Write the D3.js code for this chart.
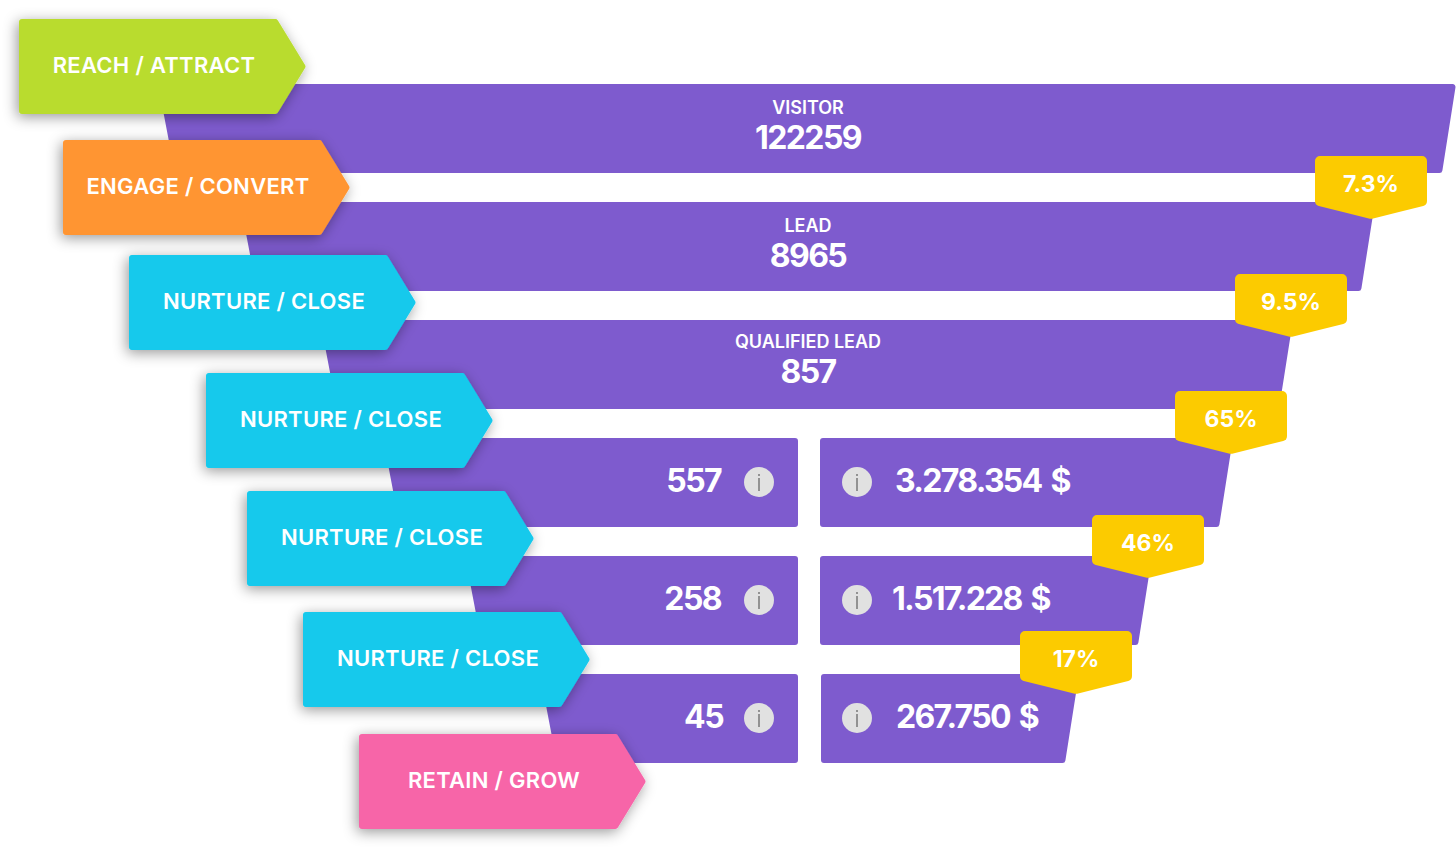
<!DOCTYPE html>
<html>
<head>
<meta charset="utf-8">
<script src="https://cdn.jsdelivr.net/npm/d3@7"></script>
<style>
  html, body { margin: 0; background: #fff; }
  svg { display: block; }
  text { font-family: Inter, "Open Sans", sans-serif; fill: #fff; }
</style>
</head>
<body>
<svg id="funnel"></svg>
<script>
// funnel data
const stages = ["VISITOR", "LEAD", "QUALIFIED LEAD", "S4", "S5", "S6"];
const stageValues = ["122259", "8965", "857", "557", "258", "45"];
const stageAmounts = [null, null, null, "3.278.354 $", "1.517.228 $", "267.750 $"];
const rates = ["7.3%", "9.5%", "65%", "46%", "17%"];
const tags = ["REACH / ATTRACT", "ENGAGE / CONVERT", "NURTURE / CLOSE", "NURTURE / CLOSE", "NURTURE / CLOSE", "NURTURE / CLOSE", "RETAIN / GROW"];
const tagColors = ["#b9dc2f", "#ff9532", "#13c9ec", "#13c9ec", "#13c9ec", "#13c9ec", "#f765a8"];

const width = 1456;
const height = 848;
const svg = d3.select("#funnel").attr("width", width).attr("height", height);

const stageIdx = d3.range(stages.length);
const tagIdx = d3.range(tags.length);
const rateIdx = d3.range(rates.length);

// rows are regular, the funnel edges and the tags are not
const y = d3.scaleBand().domain(stageIdx).range([84, 763]).paddingInner(29 / 118);
const leftEdge = d3.scaleOrdinal().domain(stageIdx).range([158, 240, 320, 383, 465, 540]);
const rightEdge = d3.scaleOrdinal().domain(stageIdx).range([1456, 1375, 1293, 1233, 1152, 1079]);
const amountX = d3.scaleOrdinal().domain(stageIdx).range([0, 0, 0, 895, 892, 896]);
const valueEnd = d3.scaleOrdinal().domain(stageIdx).range([0, 0, 0, 721, 721, 723]);
const labelDy = d3.scaleOrdinal().domain(stageIdx).range([30, 30, 28]);
const valueDy = d3.scaleOrdinal().domain(stageIdx).range([65, 65, 63]);
const tagX = d3.scaleOrdinal().domain(tagIdx).range([19, 63, 129, 206, 247, 303, 359]);
const tagY = d3.scaleOrdinal().domain(tagIdx).range([19, 140, 255, 373, 491, 612, 734]);
const rateX = d3.scaleOrdinal().domain(rateIdx).range([1315, 1235, 1175, 1092, 1020]);
const rateY = d3.scaleOrdinal().domain(rateIdx).range([156, 274, 391, 515, 631]);

const skew = 14;      // how far the right edge leans over one row
const leftSkew = 17;
const midX = 808;

// closed polygon with rounded corners
const roundedPoly = (pts, r) => {
  const p = d3.path();
  const n = pts.length;
  const mid = (a, b) => [(a[0] + b[0]) / 2, (a[1] + b[1]) / 2];
  const start = mid(pts[n - 1], pts[0]);
  p.moveTo(start[0], start[1]);
  pts.forEach((c, i) => {
    const next = pts[(i + 1) % n];
    const m = mid(c, next);
    p.arcTo(c[0], c[1], m[0], m[1], r);
    p.lineTo(m[0], m[1]);
  });
  p.closePath();
  return p.toString();
};

const defs = svg.append("defs");
const shadow = defs.append("filter").attr("id", "tagShadow")
  .attr("x", "-15%").attr("y", "-30%").attr("width", "130%").attr("height", "170%");
shadow.append("feDropShadow")
  .attr("dx", -2).attr("dy", 3).attr("stdDeviation", 7)
  .attr("flood-color", "#000").attr("flood-opacity", 0.4);

// funnel bars
const bars = svg.append("g").attr("fill", "#7e5bce");
stageIdx.forEach(i => {
  const t = y(i), b = t + y.bandwidth();
  const l = leftEdge(i), r = rightEdge(i);
  if (stageAmounts[i] === null) {
    bars.append("path").attr("d", roundedPoly([[l, t], [r, t], [r - skew, b], [l + leftSkew, b]], 3));
  } else {
    const gapL = 798, gapR = i === 5 ? 821 : 820;
    bars.append("path").attr("d", roundedPoly([[l, t], [gapL, t], [gapL, b], [l + leftSkew, b]], 3));
    bars.append("path").attr("d", roundedPoly([[gapR, t], [r, t], [r - skew, b], [gapR, b]], 3));
  }
});

// texts inside the bars
stageIdx.forEach(i => {
  const t = y(i);
  if (stageAmounts[i] === null) {
    svg.append("text").attr("x", midX).attr("y", t + labelDy(i)).attr("text-anchor", "middle")
      .attr("font-size", 18).attr("font-weight", 600).text(stages[i]);
    svg.append("text").attr("x", midX).attr("y", t + valueDy(i)).attr("text-anchor", "middle")
      .attr("font-size", 32).attr("font-weight", 700).attr("letter-spacing", -1.6).text(stageValues[i]);
  } else {
    svg.append("text").attr("x", valueEnd(i)).attr("y", t + 54).attr("text-anchor", "end")
      .attr("font-size", 32).attr("font-weight", 700).attr("letter-spacing", -1.6).text(stageValues[i]);
    svg.append("text").attr("x", amountX(i)).attr("y", t + 54)
      .attr("font-size", 32).attr("font-weight", 700).attr("letter-spacing", -1.7)
      .attr("word-spacing", 3).text(stageAmounts[i]);
    [759, 857].forEach(cx => {
      const info = svg.append("g").attr("transform", `translate(${cx},${t + 44})`);
      info.append("circle").attr("r", 15).attr("fill", "#e1e1e1");
      info.append("rect").attr("x", -0.9).attr("y", -4).attr("width", 1.8).attr("height", 13).attr("fill", "#8a8a8a");
      info.append("rect").attr("x", -0.9).attr("y", -8).attr("width", 1.8).attr("height", 2).attr("fill", "#8a8a8a");
    });
  }
});

// stage tags, left side
const tagW = 287, tagH = 95, tagTip = 29;
tagIdx.forEach(i => {
  const x0 = tagX(i), y0 = tagY(i);
  const g = svg.append("g");
  g.append("path")
    .attr("d", roundedPoly([
      [x0, y0], [x0 + tagW - tagTip, y0], [x0 + tagW, y0 + tagH / 2],
      [x0 + tagW - tagTip, y0 + tagH], [x0, y0 + tagH]
    ], 3))
    .attr("fill", tagColors[i])
    .attr("filter", "url(#tagShadow)");
  g.append("text")
    .attr("x", x0 + 135).attr("y", y0 + 54)
    .attr("text-anchor", "middle")
    .attr("font-size", 22).attr("font-weight", 600).attr("letter-spacing", 0.3)
    .text(tags[i]);
});

// conversion rate badges, right side
const rateW = 112, rateH = 49, rateTip = 14;
rateIdx.forEach(i => {
  const x0 = rateX(i), y0 = rateY(i);
  svg.append("path")
    .attr("d", roundedPoly([
      [x0, y0], [x0 + rateW, y0], [x0 + rateW, y0 + rateH],
      [x0 + rateW / 2, y0 + rateH + rateTip], [x0, y0 + rateH]
    ], 5))
    .attr("fill", "#fccb00");
  svg.append("text")
    .attr("x", x0 + rateW / 2).attr("y", y0 + 36)
    .attr("text-anchor", "middle")
    .attr("font-size", 23).attr("font-weight", 700)
    .text(rates[i]);
});
</script>
</body>
</html>
